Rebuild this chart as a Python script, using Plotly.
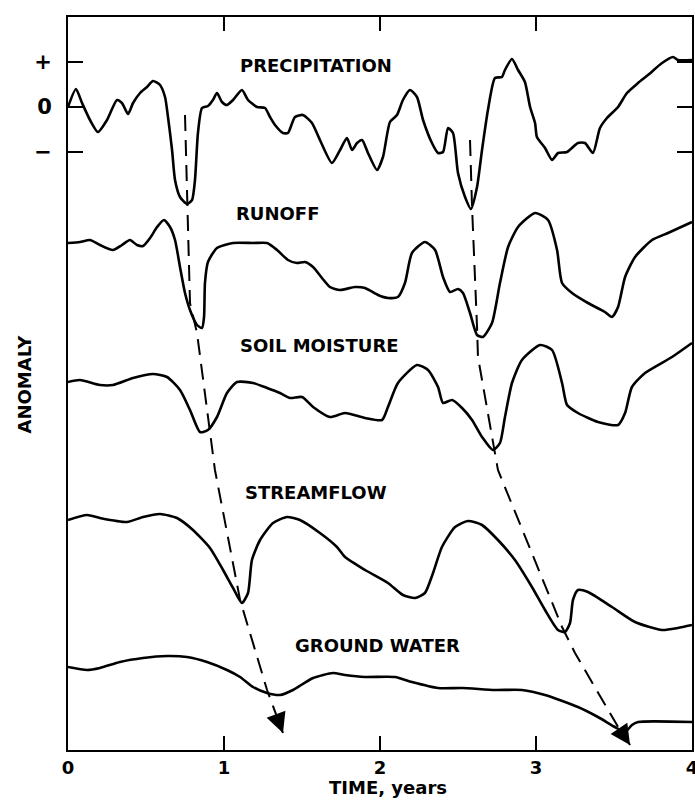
import plotly.graph_objects as go

# Time in years, anomaly in arbitrary units (tick step "+"/"-" = 45 units)
precipitation = [
    (0, 0), (0.051, 18), (0.090, 4), (0.141, -13), (0.192, -25), (0.25, -13), (0.314, 7),
    (0.346, 4), (0.385, -7), (0.417, 4), (0.462, 14), (0.506, 20), (0.545, 26), (0.590, 22),
    (0.622, 10), (0.641, -10), (0.667, -43), (0.686, -73), (0.718, -90), (0.763, -97),
    (0.795, -93), (0.814, -73), (0.833, -26), (0.859, -1), (0.897, 1), (0.929, 7), (0.955, 14),
    (0.987, 5), (1.019, 2), (1.058, 7), (1.115, 17), (1.154, 7), (1.212, 0), (1.263, -1),
    (1.295, -10), (1.327, -18), (1.378, -26), (1.410, -26), (1.455, -10), (1.506, -8),
    (1.564, -16), (1.615, -33), (1.692, -56), (1.744, -43), (1.788, -31), (1.821, -43),
    (1.853, -36), (1.885, -33), (1.923, -46), (1.981, -63), (2.019, -50), (2.064, -15),
    (2.109, -8), (2.147, 7), (2.192, 17), (2.237, 10), (2.276, -13), (2.333, -36), (2.372, -46),
    (2.404, -45), (2.436, -21), (2.468, -26), (2.5, -66), (2.545, -90), (2.583, -102),
    (2.622, -80), (2.654, -43), (2.692, -3), (2.737, 29), (2.782, 30), (2.801, 37), (2.846, 48),
    (2.885, 37), (2.929, 25), (2.962, 0), (2.994, -16), (3.006, -30), (3.058, -41), (3.103, -53),
    (3.141, -46), (3.199, -45), (3.269, -36), (3.314, -36), (3.365, -46), (3.410, -21),
    (3.455, -11), (3.526, 0), (3.583, 14), (3.654, 24), (3.718, 32), (3.808, 44), (3.878, 50),
    (3.910, 47), (4.0, 47),
]

runoff = [
    (0, 0), (0.077, 1), (0.141, 3), (0.205, -2), (0.288, -7), (0.346, -2), (0.397, 3),
    (0.442, -2), (0.481, -3), (0.526, 5), (0.571, 16), (0.615, 23), (0.654, 16), (0.686, 3),
    (0.718, -24), (0.75, -50), (0.782, -67), (0.827, -82), (0.859, -85), (0.872, -74),
    (0.878, -40), (0.897, -19), (0.955, -5), (1.058, 0), (1.186, 0), (1.276, 0), (1.340, -7),
    (1.410, -17), (1.468, -20), (1.519, -19), (1.571, -24), (1.628, -35), (1.679, -44),
    (1.744, -47), (1.840, -44), (1.904, -45), (1.987, -52), (2.051, -55), (2.115, -54),
    (2.160, -40), (2.205, -10), (2.288, 1), (2.353, -7), (2.404, -34), (2.449, -49), (2.5, -46),
    (2.532, -50), (2.577, -70), (2.622, -92), (2.660, -94), (2.718, -80), (2.769, -40),
    (2.821, -4), (2.885, 16), (2.994, 30), (3.077, 23), (3.135, -7), (3.167, -40), (3.231, -50),
    (3.333, -60), (3.442, -69), (3.487, -74), (3.526, -64), (3.571, -34), (3.635, -14),
    (3.744, 3), (3.846, 10), (4.0, 21),
]

soil_moisture = [
    (0, 0), (0.077, 2), (0.205, -3), (0.288, -3), (0.417, 4), (0.545, 8), (0.635, 5),
    (0.718, -8), (0.782, -28), (0.846, -50), (0.897, -48), (0.955, -35), (1.019, -11),
    (1.083, 0), (1.186, -1), (1.276, -6), (1.359, -11), (1.423, -16), (1.5, -15), (1.571, -25),
    (1.679, -35), (1.776, -31), (1.904, -36), (2.013, -38), (2.051, -25), (2.115, -1),
    (2.237, 17), (2.308, 12), (2.372, -5), (2.404, -21), (2.462, -18), (2.526, -26),
    (2.590, -38), (2.654, -55), (2.724, -68), (2.769, -61), (2.801, -35), (2.846, -1),
    (2.910, 22), (3.026, 37), (3.103, 32), (3.167, -1), (3.199, -23), (3.269, -31),
    (3.397, -40), (3.526, -43), (3.571, -31), (3.615, -5), (3.699, 9), (3.872, 25), (4.0, 39),
]

streamflow = [
    (0, 0), (0.122, 5), (0.205, 2), (0.378, -2), (0.481, 3), (0.590, 6), (0.699, 2),
    (0.801, -10), (0.910, -28), (0.994, -50), (1.058, -68), (1.115, -83), (1.154, -73),
    (1.179, -40), (1.231, -20), (1.314, -3), (1.404, 3), (1.487, 0), (1.615, -13), (1.724, -27),
    (1.776, -37), (1.904, -50), (2.051, -63), (2.147, -75), (2.224, -78), (2.288, -73),
    (2.340, -53), (2.397, -27), (2.481, -7), (2.564, -1), (2.654, -5), (2.756, -20),
    (2.865, -40), (2.974, -67), (3.058, -90), (3.141, -110), (3.186, -112), (3.218, -103),
    (3.237, -80), (3.269, -70), (3.333, -72), (3.487, -87), (3.635, -102), (3.808, -110),
    (3.910, -108), (4.0, -105),
]

ground_water = [
    (0, 0), (0.122, -3), (0.205, -1), (0.333, 5), (0.481, 9), (0.635, 11), (0.763, 10),
    (0.891, 5), (1.019, -3), (1.103, -10), (1.186, -20), (1.276, -26), (1.359, -28),
    (1.442, -23), (1.571, -11), (1.699, -6), (1.776, -8), (1.904, -10), (2.096, -10),
    (2.205, -15), (2.372, -21), (2.526, -21), (2.737, -23), (2.910, -23), (3.058, -28),
    (3.269, -40), (3.397, -50), (3.506, -60), (3.571, -65), (3.615, -58), (3.654, -55),
    (4.0, -55),
]

series_names = ["PRECIPITATION", "RUNOFF", "SOIL MOISTURE", "STREAMFLOW", "GROUND WATER"]
series_data = [precipitation, runoff, soil_moisture, streamflow, ground_water]
series_offsets = [0, -136, -275, -413, -560]
label_x = [1.590, 1.346, 1.615, 1.590, 1.981]
label_y = [42, -106, -238, -385, -538]

# Dashed propagation paths (same vertical units as the plot)
drought_path_1 = [(0.75, -8), (0.782, -196), (0.827, -226), (0.942, -363), (1.103, -493),
                  (1.276, -583), (1.378, -626)]
drought_path_2 = [(2.577, -33), (2.590, -100), (2.622, -220), (2.628, -250), (2.756, -363),
                  (3.167, -520), (3.250, -546), (3.526, -620), (3.603, -638)]

x_ticks = [0, 1, 2, 3, 4]
x_ticklabels = ["0", "1", "2", "3", "4"]
y_ticks = [45, 0, -45]
y_ticklabels = ["+", "0", "\u2212"]

FONT = "DejaVu Sans"

fig = go.Figure()

for data, off in zip(series_data, series_offsets):
    t = [p[0] for p in data]
    y = [p[1] + off for p in data]
    fig.add_trace(go.Scatter(
        x=t, y=y, mode="lines",
        line=dict(color="black", width=2.6, shape="spline", smoothing=0.6),
        showlegend=False, hoverinfo="skip"))

annotations = []
for path in (drought_path_1, drought_path_2):
    fig.add_trace(go.Scatter(
        x=[p[0] for p in path], y=[p[1] for p in path], mode="lines",
        line=dict(color="black", width=2, dash="16px,9px"),
        showlegend=False, hoverinfo="skip"))
    (tx, ty), (px_, py_) = path[-1], path[-2]
    annotations.append(dict(
        x=tx, y=ty, ax=tx + 0.35 * (px_ - tx), ay=ty + 0.35 * (py_ - ty),
        xref="x", yref="y", axref="x", ayref="y", text="", showarrow=True,
        arrowhead=2, arrowsize=2, arrowwidth=2, arrowcolor="black", standoff=0))

for name, lx, ly in zip(series_names, label_x, label_y):
    annotations.append(dict(
        x=lx, y=ly, xref="x", yref="y", text=name, showarrow=False,
        font=dict(family=FONT, size=18, color="black", weight="bold"),
        xanchor="center", yanchor="middle"))

annotations.append(dict(
    x=-0.069, y=0.50, xref="paper", yref="paper", text="ANOMALY", textangle=-90,
    showarrow=False, font=dict(family=FONT, size=18, color="black", weight="bold"),
    xanchor="center", yanchor="middle"))
annotations.append(dict(
    x=0.513, y=-0.051, xref="paper", yref="paper", text="TIME, years",
    showarrow=False, font=dict(family=FONT, size=18, color="black", weight="bold"),
    xanchor="center", yanchor="middle"))

fig.update_layout(
    width=695, height=804,
    margin=dict(l=68, r=3, t=17, b=54),
    paper_bgcolor="white", plot_bgcolor="white",
    showlegend=False,
    font=dict(family=FONT, color="black", size=18),
    xaxis=dict(range=[0, 4], tickvals=x_ticks, ticktext=x_ticklabels,
               ticks="inside", ticklen=14, tickwidth=2, tickcolor="black",
               showline=True, linewidth=2, linecolor="black", mirror="ticks",
               showgrid=False, zeroline=False, ticklabelstandoff=0,
               ticklabeloverflow="allow", automargin=False,
               tickfont=dict(family=FONT, size=18, color="black", weight="bold")),
    yaxis=dict(range=[-643, 90], tickvals=y_ticks, ticktext=y_ticklabels,
               ticks="inside", ticklen=15, tickwidth=2, tickcolor="black",
               showline=True, linewidth=2, linecolor="black", mirror="ticks",
               showgrid=False, zeroline=False, ticklabelstandoff=10, automargin=False,
               tickfont=dict(family=FONT, size=21, color="black", weight="bold")),
    annotations=annotations,
)

fig.write_html("out.html")
